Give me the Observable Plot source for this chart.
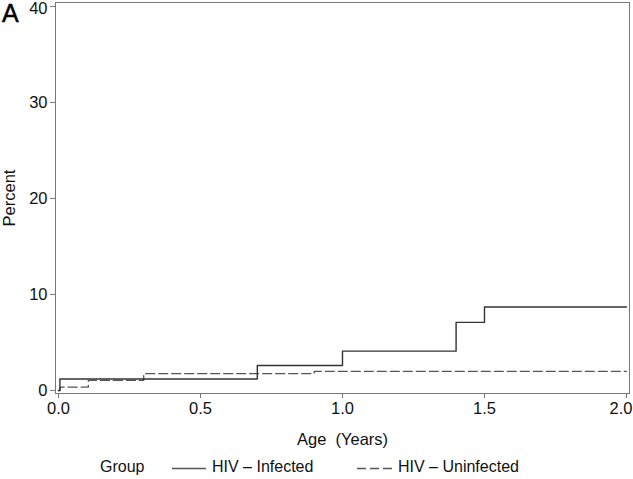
<!DOCTYPE html>
<html><head><meta charset="utf-8">
<script src="https://cdn.jsdelivr.net/npm/d3@7"></script>
<script src="https://cdn.jsdelivr.net/npm/@observablehq/plot@0.6"></script>
<style>
body{margin:0;background:#fff;font-family:"Liberation Sans",Arial,sans-serif;}
#wrap{position:relative;width:633px;height:479px;}
#chart svg{overflow:visible;}
#panel{position:absolute;left:2px;top:-1px;font-size:25px;-webkit-text-stroke:0.5px #000;}
#legend{position:absolute;left:0;top:450px;width:633px;height:29px;font-size:16px;color:#111;}
#legend span{position:absolute;top:8px;}
</style></head>
<body><div id="wrap"><div id="chart"></div><div id="panel">A</div><div id="legend"></div></div>
<script>
const groups = ["HIV – Infected", "HIV – Uninfected"];
const infectedAge = [0, 0.005, 0.70, 1.00, 1.40, 1.50, 2.00];
const infectedPct = [0, 1.2, 2.6, 4.1, 7.1, 8.7, 8.7];
const uninfectedAge = [0, 0.005, 0.105, 0.30, 0.90, 2.00];
const uninfectedPct = [0, 0.35, 1.05, 1.75, 2.0, 2.0];
const xTicks = [0, 0.5, 1.0, 1.5, 2.0];
const yTicks = [0, 10, 20, 30, 40];

const infected = infectedAge.map((a, i) => ({age: a, pct: infectedPct[i], group: groups[0]}));
const uninfected = uninfectedAge.map((a, i) => ({age: a, pct: uninfectedPct[i], group: groups[1]}));

const W = 633, H = 450;
const fmt = d3.format(".1f");
const lastX = xTicks[xTicks.length - 1];
const lastY = yTicks[yTicks.length - 1];
const chart = Plot.plot({
  width: W, height: H,
  marginLeft: 55, marginRight: 4, marginTop: 2, marginBottom: H - 393,
  style: {fontFamily: "Liberation Sans, Arial, sans-serif", fontSize: "16px", color: "#111", background: "#fff", overflow: "visible"},
  x: {domain: [-0.0106, 2.0106]},
  y: {domain: [-0.31, 40.42]},
  marks: [
    Plot.frame({stroke: "#777", strokeWidth: 1}),
    Plot.axisX({ticks: xTicks.slice(0, -1), tickFormat: fmt, tickSize: 5, tickPadding: 4, stroke: "#777",
      label: "Age  (Years)", labelAnchor: "center", labelArrow: "none", labelOffset: 51, fontSize: 16.5}),
    Plot.axisX({ticks: [lastX], tickFormat: () => "", tickSize: 5, stroke: "#777", label: null}),
    Plot.axisX({ticks: [lastX], tickFormat: fmt, tickSize: 0, tickPadding: 9, textAnchor: "end", dx: 6, label: null, fontSize: 16.5}),
    Plot.axisY({ticks: yTicks.slice(0, -1), tickSize: 5, tickPadding: 3, stroke: "#777",
      label: "Percent", labelAnchor: "center", labelArrow: "none", labelOffset: 52, fontSize: 16.5}),
    Plot.axisY({ticks: [lastY], tickFormat: () => "", tickSize: 5, stroke: "#777", label: null}),
    Plot.axisY({ticks: [lastY], tickSize: 0, tickPadding: 8, dy: 2, label: null, fontSize: 16.5}),
    Plot.line(uninfected, {x: "age", y: "pct", curve: "step-after", stroke: "#555", strokeWidth: 1.3, strokeDasharray: "9,4"}),
    Plot.line(infected, {x: "age", y: "pct", curve: "step-after", stroke: "#333", strokeWidth: 1.4})
  ]
});
document.getElementById("chart").appendChild(chart);

// legend
const lg = document.getElementById("legend");
lg.innerHTML = `
<span style="left:100px">Group</span>
<svg style="position:absolute;left:0;top:0" width="633" height="29">
  <line x1="172" x2="206" y1="18.5" y2="18.5" stroke="#555" stroke-width="1.3"/>
  <line x1="357" x2="392" y1="18.5" y2="18.5" stroke="#555" stroke-width="1.3" stroke-dasharray="9,4"/>
</svg>
<span style="left:212px">${groups[0]}</span>
<span style="left:398px">${groups[1]}</span>`;
</script></body></html>
